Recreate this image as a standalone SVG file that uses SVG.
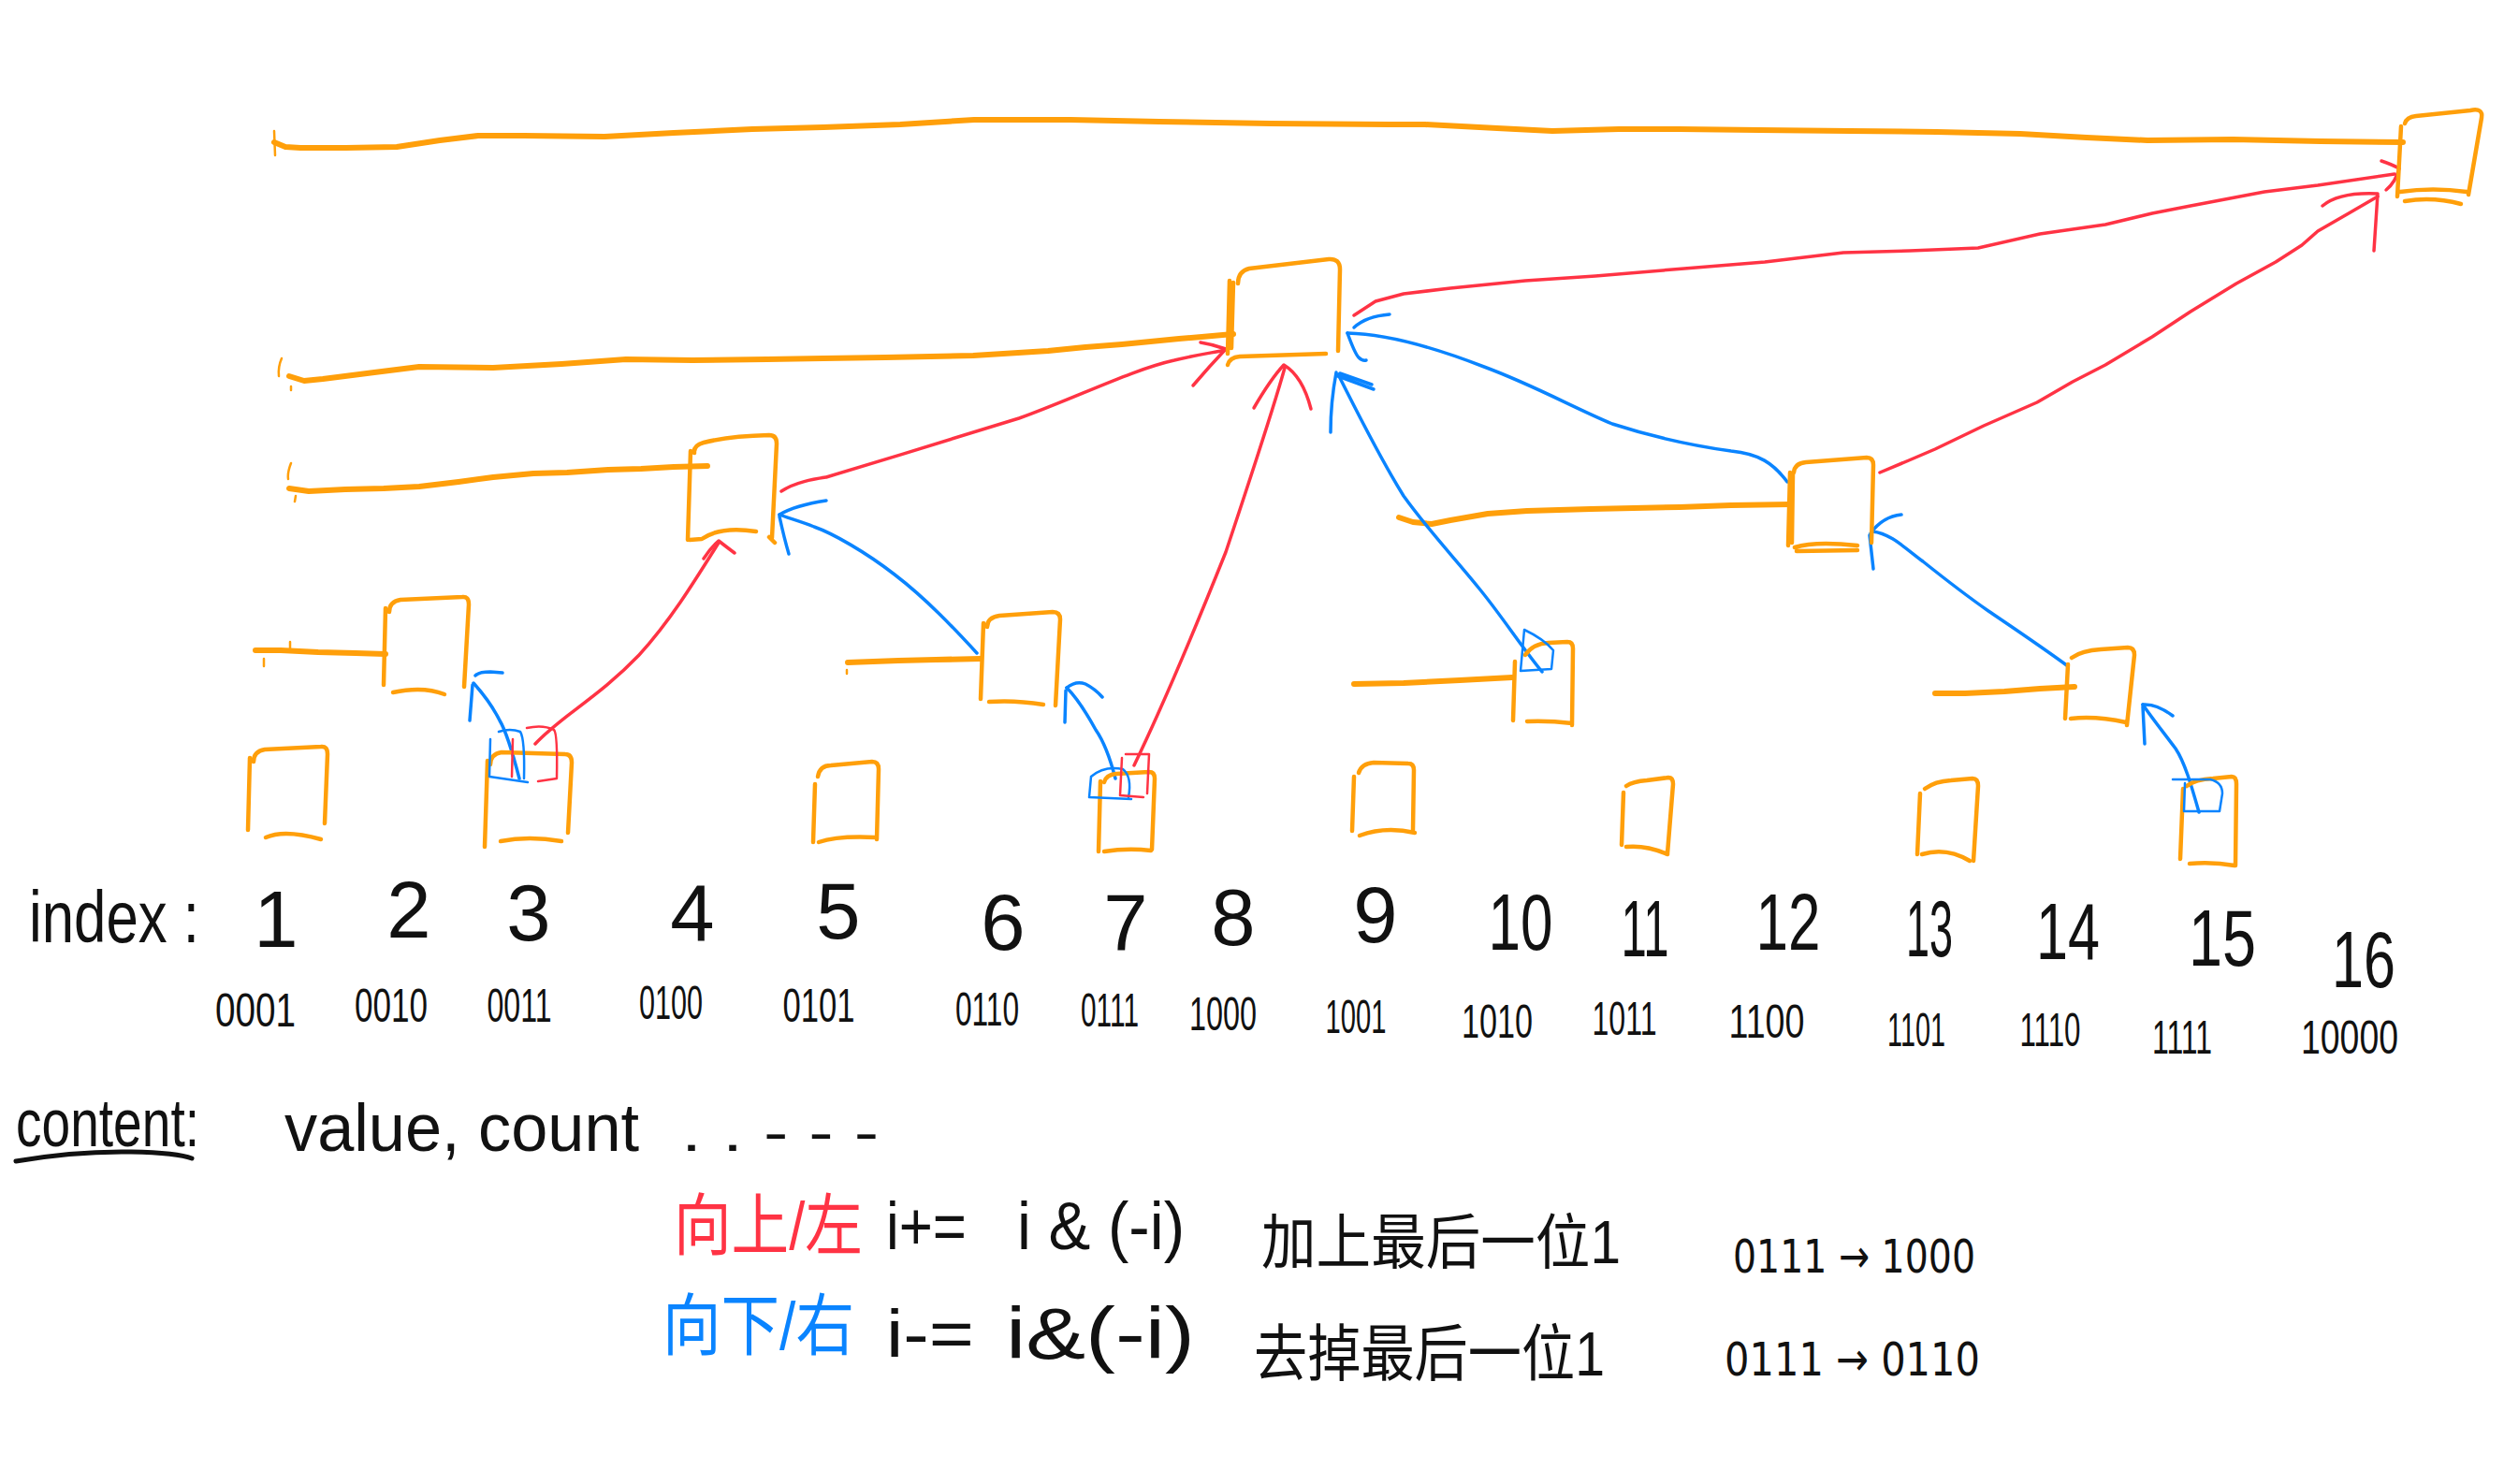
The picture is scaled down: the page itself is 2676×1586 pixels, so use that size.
<svg xmlns="http://www.w3.org/2000/svg" width="2676" height="1586" viewBox="0 0 2676 1586">
<style>
  .bx{fill:none;stroke:#FF9F0A;stroke-width:4.5;stroke-linecap:round;stroke-linejoin:round}
  .rg{fill:none;stroke:#FF9F0A;stroke-width:6;stroke-linecap:round;stroke-linejoin:round}
  .tk{fill:none;stroke:#FF9F0A;stroke-width:2.5;stroke-linecap:round}
  .up{fill:none;stroke:#FF3344;stroke-width:3.5;stroke-linecap:round;stroke-linejoin:round}
  .dn{fill:none;stroke:#0A84FF;stroke-width:3.5;stroke-linecap:round;stroke-linejoin:round}
  .upt{fill:none;stroke:#FF3344;stroke-width:2.5;stroke-linecap:round;stroke-linejoin:round}
  .dnt{fill:none;stroke:#0A84FF;stroke-width:2.5;stroke-linecap:round;stroke-linejoin:round}
  text{font-family:"Liberation Sans","Noto Sans CJK SC",sans-serif;fill:#111}
  .idx{font-size:85px;text-anchor:middle}
  .bin{font-size:50px;text-anchor:middle}
  .red{fill:#FF3344}
  .blue{fill:#0A84FF}
  .cv{font-family:"DejaVu Sans","Liberation Sans",sans-serif}
</style>

<g id="connectors">
  <!-- orange range lines -->
  <polyline class="rg" points="293,152 305,157 321,158 370,158 424,157 470,150 511,145 560,145 646,146 720,142 804,138 880,136 962,133 1041,128 1144,128 1239,130 1358,132 1484,133 1523,133 1600,137 1659,140 1730,138 1795,138 1880,139 1977,140 2070,141 2159,143 2230,147 2295,150 2386,149 2480,151 2568,152"/>
  <path class="tk" d="M293,140 L294,166"/>
  <polyline class="rg" points="309,402 325,407 345,405 400,398 448,392 527,393 600,389 669,384 740,385 820,384 880,383 946,382 1040,380 1120,375 1160,371 1199,368 1260,362 1318,357"/>
  <path class="tk" d="M301,383 Q297,392 298,402 M311,413 L311,417"/>
  <polyline class="rg" points="309,522 330,525 369,523 410,522 448,520 490,515 527,510 570,506 606,505 650,502 685,501 720,499 756,498"/>
  <path class="tk" d="M311,495 Q307,505 308,512 M316,530 L315,536"/>
  <polyline class="rg" points="273,695 300,695 340,697 380,698 412,699"/>
  <path class="tk" d="M310,686 L310,694 M282,704 L282,712"/>
  <polyline class="rg" points="906,708 960,706 1000,705 1048,704"/>
  <path class="tk" d="M905,716 L905,720"/>
  <polyline class="rg" points="1447,731 1500,730 1560,727 1616,724"/>
  <polyline class="rg" points="1495,553 1510,558 1530,560 1550,556 1590,549 1632,546 1700,544 1795,542 1850,540 1914,539"/>
  <polyline class="rg" points="2068,741 2100,741 2142,739 2180,736 2217,734"/>

  <!-- red: upward i += i&(-i) -->
  <path class="up" d="M572,795 C600,765 640,745 683,700 C715,665 740,625 768,580"/>
  <path class="up" d="M752,597 Q760,585 768,578 Q777,585 785,591"/>
  <path class="up" d="M835,525 C850,515 870,512 883,510 C950,490 1030,465 1089,447 C1150,425 1210,395 1255,385 C1275,380 1295,377 1310,374"/>
  <path class="up" d="M1283,366 Q1296,368 1310,373 Q1292,392 1275,412"/>
  <path class="up" d="M1212,818 C1240,760 1280,665 1310,590 C1340,500 1360,440 1373,393"/>
  <path class="up" d="M1340,436 Q1358,405 1372,390 Q1392,402 1401,437"/>
  <polyline class="up" points="1447,337 1470,322 1500,314 1550,308 1630,300 1705,295 1800,287 1886,280 1970,270 2041,268 2090,266 2114,265 2180,250 2250,240 2300,228 2341,220 2420,205 2477,198 2559,186"/>
  <path class="up" d="M2545,172 Q2557,176 2564,180 Q2560,195 2550,203"/>
  <polyline class="up" points="2009,505 2040,492 2068,480 2120,455 2177,430 2215,408 2250,390 2300,360 2341,333 2390,303 2432,280 2460,262 2477,247 2510,228 2541,210"/>
  <path class="up" d="M2482,220 Q2500,205 2541,207 L2537,268"/>

  <!-- blue: downward i -= i&(-i) -->
  <path class="dn" d="M555,832 C548,805 540,780 534,770 C525,752 515,740 506,730"/>
  <path class="dn" d="M508,722 Q512,718 524,718 L537,719 M505,732 L502,770"/>
  <path class="dn" d="M1044,698 C1020,672 990,640 956,614 C925,590 890,570 870,563 C855,557 840,553 833,550"/>
  <path class="dn" d="M833,550 Q850,540 883,535 M833,552 Q838,575 843,592"/>
  <path class="dn" d="M1192,832 C1185,805 1178,790 1171,780 C1160,760 1150,745 1140,735"/>
  <path class="dn" d="M1140,735 Q1150,727 1160,731 Q1170,736 1178,745 M1139,738 L1138,772"/>
  <path class="dn" d="M1648,718 C1625,690 1604,657 1580,628 C1555,597 1525,565 1500,530 C1475,490 1450,440 1430,400"/>
  <path class="dn" d="M1430,402 L1468,416 M1432,399 L1466,411 M1428,398 Q1422,430 1422,462"/>
  <path class="dn" d="M1910,515 C1895,495 1880,485 1850,482 C1800,475 1760,465 1723,453 C1680,435 1640,412 1586,392 C1550,378 1490,357 1440,356"/>
  <path class="dn" d="M1440,356 Q1448,378 1452,382 Q1456,386 1460,385 M1447,350 Q1460,338 1485,336"/>
  <path class="dn" d="M2210,712 C2180,690 2150,670 2125,653 C2095,632 2070,612 2055,600 C2035,585 2020,570 2001,568"/>
  <path class="dn" d="M1999,570 Q2012,552 2032,550 M1998,572 L2002,608"/>
  <path class="dn" d="M2350,868 C2342,840 2335,815 2325,800 C2310,780 2298,765 2290,753"/>
  <path class="dn" d="M2290,753 Q2305,752 2322,765 M2290,755 L2292,795"/>
</g>

<g id="node-1"><path class="bx" d="M267,810 L265,887 M271,814 Q271,803 283,801 L343,798 Q350,797 350,806 L347,880 M284,895 Q304,886 343,897"/></g>
<g id="node-2"><path class="bx" d="M412,650 L410,732 M416,654 Q416,643 428,641 L494,638 Q501,637 501,646 L496,734 M420,740 Q452,733 475,742"/></g>
<g id="node-3">
  <path class="bx" d="M521,813 L518,905 M524,817 Q524,806 536,804 L604,806 Q611,806 611,815 L607,890 M535,899 Q565,893 600,899"/>
  <path class="dnt" d="M524,790 L523,830 L564,836 M533,782 Q545,778 556,782 Q561,790 560,832"/>
  <path class="upt" d="M548,790 L547,830 M563,778 Q580,774 592,780 Q596,784 595,832 L575,835"/>
</g>
<g id="node-4"><path class="bx" d="M738,482 L735,577 M742,484 Q741,476 752,473 Q780,466 822,465 Q830,465 830,474 L825,575 M737,577 L750,576 Q770,562 808,568 M822,574 L828,580"/></g>
<g id="node-5"><path class="bx" d="M871,838 L869,900 M874,830 Q876,818 888,818 L932,814 Q939,814 939,822 L937,897 M875,900 Q895,893 936,895"/></g>
<g id="node-6"><path class="bx" d="M1051,666 L1048,747 M1055,670 Q1055,660 1068,658 L1125,654 Q1133,654 1133,662 L1128,754 M1057,750 Q1085,748 1115,753"/></g>
<g id="node-7">
  <path class="bx" d="M1176,835 L1174,910 M1180,836 Q1182,828 1193,827 L1228,825 Q1234,825 1234,832 L1231,908 M1180,910 Q1205,906 1230,909"/>
  <path class="dnt" d="M1166,830 L1164,852 L1209,854 M1166,830 Q1180,818 1200,822 Q1210,830 1206,852"/>
  <path class="upt" d="M1199,810 L1197,850 L1222,852 M1203,806 L1228,806 L1226,848"/>
</g>
<g id="node-8"><path class="bx" d="M1314,300 L1312,378 M1318,302 L1316,372 M1323,303 Q1323,290 1335,287 L1420,277 Q1432,276 1432,288 L1430,375 M1312,390 Q1314,382 1325,381 L1417,378"/></g>
<g id="node-9"><path class="bx" d="M1447,830 L1445,888 M1452,826 Q1455,816 1468,815 L1505,816 Q1511,816 1511,823 L1510,887 M1453,893 Q1480,883 1512,890"/></g>
<g id="node-10">
  <path class="bx" d="M1619,707 L1617,770 M1630,700 Q1638,688 1655,687 L1675,686 Q1681,686 1681,693 L1680,775 M1632,771 Q1655,770 1680,773"/>
  <path class="dnt" d="M1629,673 Q1650,683 1660,695 L1658,715 L1625,717 L1629,673"/>
</g>
<g id="node-11"><path class="bx" d="M1735,847 L1733,903 M1738,840 Q1745,835 1760,834 L1783,831 Q1788,831 1788,838 L1782,912 M1738,905 Q1760,903 1782,913"/></g>
<g id="node-12"><path class="bx" d="M1913,505 L1911,583 M1916,507 L1915,580 M1917,505 Q1918,495 1930,494 L1995,489 Q2002,489 2002,497 L2000,580 M1918,585 Q1940,578 1985,583 M1920,589 L1985,588"/></g>
<g id="node-13"><path class="bx" d="M2052,848 L2049,913 M2057,843 Q2068,835 2085,834 L2108,832 Q2114,832 2114,840 L2109,920 M2054,913 Q2080,905 2105,920"/></g>
<g id="node-14"><path class="bx" d="M2210,710 L2207,768 M2214,703 Q2225,695 2245,694 L2274,692 Q2281,692 2281,700 L2273,775 M2213,768 Q2240,765 2272,772"/></g>
<g id="node-15">
  <path class="bx" d="M2333,843 L2330,918 M2337,840 Q2346,833 2365,832 L2385,830 Q2390,830 2390,838 L2389,925 M2340,923 Q2365,921 2388,925"/>
  <path class="dnt" d="M2322,833 L2362,833 Q2375,836 2375,848 L2372,867 L2334,867 L2335,837"/>
</g>
<g id="node-16"><path class="bx" d="M2566,135 L2562,210 M2570,132 Q2572,125 2582,124 L2640,118 Q2654,115 2652,126 L2638,208 M2565,205 Q2600,200 2636,205 M2570,215 Q2600,210 2630,218"/></g>

<g id="labels">
  <text x="31" y="1007" font-size="78" textLength="182" lengthAdjust="spacingAndGlyphs">index :</text>
  <text class="idx" x="295" y="1012">1</text>
  <text class="idx" x="437" y="1002">2</text>
  <text class="idx" x="565" y="1005">3</text>
  <text class="idx" x="740" y="1005">4</text>
  <text class="idx" x="896" y="1003">5</text>
  <text class="idx" x="1072" y="1015" font-size="95">6</text>
  <text class="idx" x="1203" y="1015">7</text>
  <text class="idx" x="1318" y="1010">8</text>
  <text class="idx" x="1470" y="1007">9</text>
  <text class="idx" x="1625" y="1015" textLength="69" lengthAdjust="spacingAndGlyphs">10</text>
  <text class="idx" x="1758" y="1022" textLength="51" lengthAdjust="spacingAndGlyphs">11</text>
  <text class="idx" x="1911" y="1015" textLength="69" lengthAdjust="spacingAndGlyphs">12</text>
  <text class="idx" x="2062" y="1022" textLength="50" lengthAdjust="spacingAndGlyphs">13</text>
  <text class="idx" x="2210" y="1025" textLength="68" lengthAdjust="spacingAndGlyphs">14</text>
  <text class="idx" x="2375" y="1032" textLength="72" lengthAdjust="spacingAndGlyphs">15</text>
  <text class="idx" x="2526" y="1055" font-size="100" textLength="68" lengthAdjust="spacingAndGlyphs">16</text>

  <text class="bin" x="273" y="1097" textLength="86" lengthAdjust="spacingAndGlyphs">0001</text>
  <text class="bin" x="418" y="1092" textLength="78" lengthAdjust="spacingAndGlyphs">0010</text>
  <text class="bin" x="555" y="1092" textLength="69" lengthAdjust="spacingAndGlyphs">0011</text>
  <text class="bin" x="717" y="1089" textLength="68" lengthAdjust="spacingAndGlyphs">0100</text>
  <text class="bin" x="875" y="1092" textLength="77" lengthAdjust="spacingAndGlyphs">0101</text>
  <text class="bin" x="1055" y="1096" textLength="68" lengthAdjust="spacingAndGlyphs">0110</text>
  <text class="bin" x="1186" y="1097" textLength="62" lengthAdjust="spacingAndGlyphs">0111</text>
  <text class="bin" x="1307" y="1101" textLength="72" lengthAdjust="spacingAndGlyphs">1000</text>
  <text class="bin" x="1449" y="1104" textLength="65" lengthAdjust="spacingAndGlyphs">1001</text>
  <text class="bin" x="1600" y="1109" textLength="76" lengthAdjust="spacingAndGlyphs">1010</text>
  <text class="bin" x="1736" y="1106" textLength="69" lengthAdjust="spacingAndGlyphs">1011</text>
  <text class="bin" x="1888" y="1109" textLength="81" lengthAdjust="spacingAndGlyphs">1100</text>
  <text class="bin" x="2048" y="1118" textLength="62" lengthAdjust="spacingAndGlyphs">1101</text>
  <text class="bin" x="2191" y="1118" textLength="65" lengthAdjust="spacingAndGlyphs">1110</text>
  <text class="bin" x="2332" y="1126" textLength="64" lengthAdjust="spacingAndGlyphs">1111</text>
  <text class="bin" x="2511" y="1126" textLength="104" lengthAdjust="spacingAndGlyphs">10000</text>

  <text x="17" y="1225" font-size="72" textLength="196" lengthAdjust="spacingAndGlyphs">content:</text>
  <path d="M17,1241 Q80,1230 140,1231 Q190,1232 205,1238" fill="none" stroke="#111" stroke-width="5" stroke-linecap="round"/>
  <text x="304" y="1230" font-size="72" textLength="379" lengthAdjust="spacingAndGlyphs">value, count</text>
  <text x="728" y="1230" font-size="60" textLength="211" lengthAdjust="spacingAndGlyphs">. . - - -</text>

  <text class="red" x="720" y="1335" font-size="72" textLength="202" lengthAdjust="spacingAndGlyphs">向上/左</text>
  <text x="947" y="1335" font-size="72" textLength="86" lengthAdjust="spacingAndGlyphs">i+=</text>
  <text x="1087" y="1335" font-size="72" textLength="179" lengthAdjust="spacingAndGlyphs">i &amp; (-i)</text>
  <text x="1348" y="1350" font-size="64" textLength="384" lengthAdjust="spacingAndGlyphs">加上最后一位1</text>
  <text class="cv" x="1852" y="1360" font-size="50" textLength="259" lengthAdjust="spacingAndGlyphs">0111 → 1000</text>

  <text class="blue" x="708" y="1442" font-size="72" textLength="205" lengthAdjust="spacingAndGlyphs">向下/右</text>
  <text x="947" y="1450" font-size="72" textLength="94" lengthAdjust="spacingAndGlyphs">i-=</text>
  <text x="1075" y="1452" font-size="78" textLength="202" lengthAdjust="spacingAndGlyphs">i&amp;(-i)</text>
  <text x="1340" y="1470" font-size="66" textLength="375" lengthAdjust="spacingAndGlyphs">去掉最后一位1</text>
  <text class="cv" x="1843" y="1470" font-size="50" textLength="273" lengthAdjust="spacingAndGlyphs">0111 → 0110</text>
</g>
</svg>
